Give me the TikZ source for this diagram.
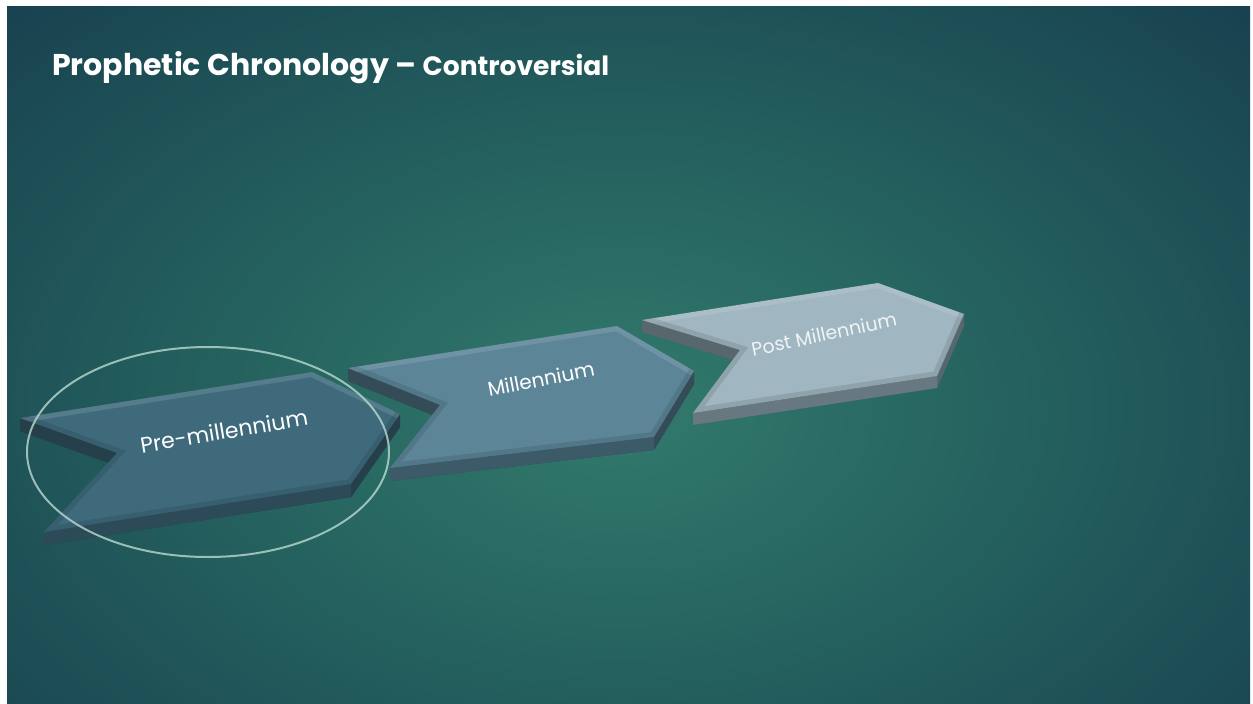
\documentclass[tikz,border=0pt]{standalone}
\usepackage{fontspec}
\setmainfont{Poppins}
\definecolor{bgA}{RGB}{50,122,108}
\definecolor{bgB}{RGB}{37,98,95}
\definecolor{bgC}{RGB}{22,60,77}
\definecolor{preTop}{RGB}{62,106,124}
\definecolor{preSide}{RGB}{44,74,88}
\definecolor{milTop}{RGB}{92,133,152}
\definecolor{milSide}{RGB}{60,90,104}
\definecolor{postTop}{RGB}{160,182,192}
\definecolor{postSide}{RGB}{104,120,128}
\definecolor{ellcol}{RGB}{175,210,200}
\definecolor{postText}{RGB}{240,244,246}
\pgfdeclareradialshading{bgshade}{\pgfpoint{0bp}{0bp}}{color(0bp)=(bgA); color(13bp)=(bgB); color(32bp)=(bgC); color(100bp)=(bgC)}
\newcommand\mychevron[4]{%
  \path (#1A) ++(0,#2) coordinate (#1a);
  \path (#1C) ++(0,#2) coordinate (#1c);
  \path (#1D) ++(0,#2) coordinate (#1d);
  \path (#1E) ++(0,#2) coordinate (#1e);
  \path (#1F) ++(0,#2) coordinate (#1f);
  \path (#1B) ++(0,#2) coordinate (#1b);
  \fill[#4!80!black] (#1a) -- (#1b) -- (#1c) -- (#1d) -- (#1e) -- (#1f) -- cycle;
  \fill[#4!85!black] (#1A) -- (#1F) -- (#1f) -- (#1a) -- cycle;
  \fill[#4!85!black] (#1C) -- (#1D) -- (#1d) -- (#1c) -- cycle;
  \fill[#4] (#1D) -- (#1E) -- (#1e) -- (#1d) -- cycle;
  \fill[#3] (#1A) -- (#1B) -- (#1C) -- (#1D) -- (#1E) -- (#1F) -- cycle;
  \begin{scope}
    \clip (#1A) -- (#1B) -- (#1C) -- (#1D) -- (#1E) -- (#1F) -- cycle;
    \draw[line width=10pt, white, opacity=0.12, line join=miter] (#1A) -- (#1B) -- (#1C);
    \draw[line width=10pt, black, opacity=0.10, line join=miter] (#1C) -- (#1D) -- (#1E) -- (#1F) -- (#1A);
  \end{scope}
}
\tikzset{
  chevlabel/.style={text=white, inner sep=0pt, font=\fontsize{#1}{#1}\selectfont}
}
\begin{document}
\begin{tikzpicture}[x=1pt,y=-1pt]
\useasboundingbox (0,0) rectangle (1253,704);
\fill[white] (0,0) rectangle (1253,704);
\begin{scope}
  \clip (7,6) rectangle (1250,704);
  \fill[bgC] (7,6) rectangle (1250,704);
  \shade[shading=bgshade] (-130,-80) rectangle (1370,900);
\end{scope}
% title
\node[anchor=base west, inner sep=0pt, text=white] (title) at (52,75)
  {\bfseries\fontsize{30}{32}\selectfont Prophetic Chronology – {\fontsize{26.5}{28}\selectfont Controversial}};
% Post millennium
\coordinate (qA) at (642,320);
\coordinate (qB) at (878,283);
\coordinate (qC) at (964,314);
\coordinate (qD) at (937,376);
\coordinate (qE) at (693,413);
\coordinate (qF) at (740,350);
\mychevron{q}{12}{postTop}{postSide}
% Millennium
\coordinate (mA) at (348,368);
\coordinate (mB) at (617,326);
\coordinate (mC) at (694,371);
\coordinate (mD) at (654,437);
\coordinate (mE) at (390,468);
\coordinate (mF) at (440,405);
\mychevron{m}{13}{milTop}{milSide}
% Pre millennium
\coordinate (pA) at (20,418);
\coordinate (pB) at (312,372);
\coordinate (pC) at (400,414);
\coordinate (pD) at (351,484);
\coordinate (pE) at (44,532);
\coordinate (pF) at (117,453);
\mychevron{p}{13}{preTop}{preSide}
% labels
\node[chevlabel=22, rotate=9.5] (pre) at (224,431) {Pre-millennium};
\node[chevlabel=20, rotate=11] (mil) at (541,379) {Millennium};
\node[chevlabel=19, rotate=12, text=postText] (post) at (824,334) {Post Millennium};
% ellipse
\draw[ellcol, opacity=0.85, line width=2pt] (208,452) ellipse [x radius=181, y radius=105];
\end{tikzpicture}
\end{document}
